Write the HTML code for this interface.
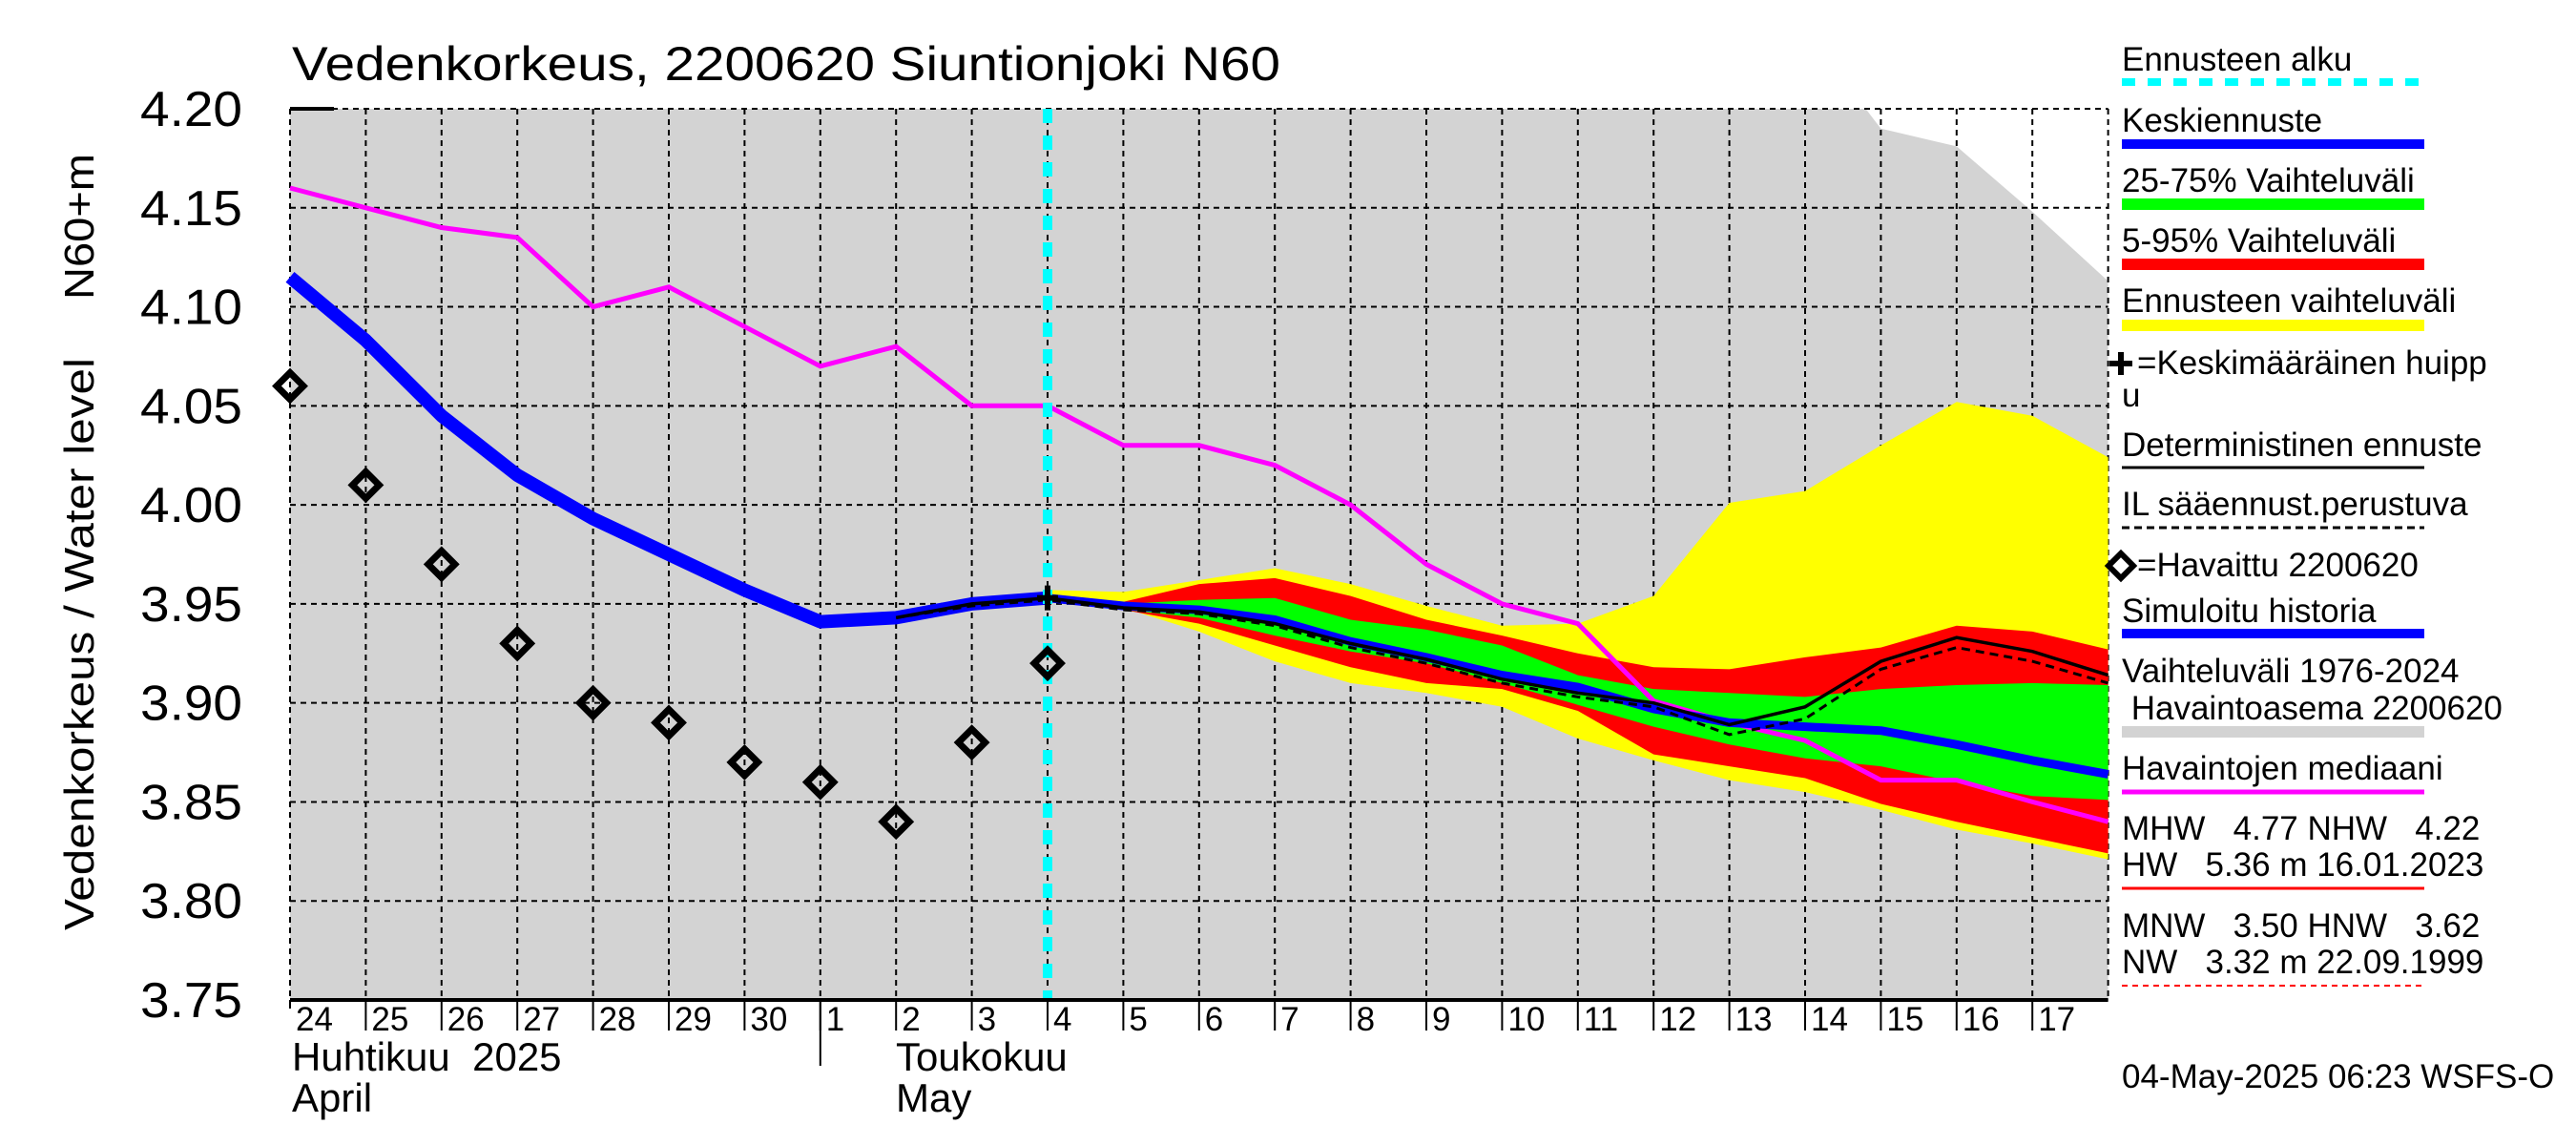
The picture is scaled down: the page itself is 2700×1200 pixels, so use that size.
<!DOCTYPE html>
<html><head><meta charset="utf-8">
<style>
html,body{margin:0;padding:0;background:#fff;}
svg{display:block;font-family:"Liberation Sans",sans-serif;}
text{white-space:pre;}
</style></head>
<body>
<svg id="chart" width="2700" height="1200" viewBox="0 0 2700 1200" xmlns="http://www.w3.org/2000/svg">
<rect x="0" y="0" width="2700" height="1200" fill="#fff"/>
<text x="306" y="84" font-size="50" textLength="1036" lengthAdjust="spacingAndGlyphs">Vedenkorkeus, 2200620 Siuntionjoki N60</text>
<text transform="translate(98,975) rotate(-90)" font-size="44" textLength="600" lengthAdjust="spacingAndGlyphs">Vedenkorkeus / Water level</text>
<text transform="translate(98,314) rotate(-90)" font-size="44" textLength="153" lengthAdjust="spacingAndGlyphs">N60+m</text>
<g id="plot"></g>
<g id="legend"></g>
</svg>
<script>
// ---- data ----
const dayLabels = ["24","25","26","27","28","29","30","1","2","3","4","5","6","7","8","9","10","11","12","13","14","15","16","17"];
const yTicks = [3.75,3.80,3.85,3.90,3.95,4.00,4.05,4.10,4.15,4.20];
const observedDays = [0,1,2,3,4,5,6,7,8,9,10];
const observed = [4.06,4.01,3.97,3.93,3.90,3.89,3.87,3.86,3.84,3.88,3.92];
const simHistDays = [0,1,2,3,4,5,6,7,8,9,10];
const simHist = [4.115,4.083,4.045,4.015,3.993,3.975,3.957,3.941,3.943,3.950,3.953];
const medianDays = [0,1,2,3,4,5,6,7,8,9,10,11,12,13,14,15,16,17,18,19,20,21,22,23,24];
const median = [4.16,4.15,4.14,4.135,4.10,4.11,4.09,4.07,4.08,4.05,4.05,4.03,4.03,4.02,4.00,3.97,3.95,3.94,3.901,3.89,3.881,3.861,3.861,3.85,3.84];
const fcDays = [10,11,12,13,14,15,16,17,18,19,20,21,22,23,24];
const meanFc = [3.953,3.949,3.947,3.942,3.931,3.923,3.914,3.908,3.897,3.890,3.888,3.886,3.879,3.871,3.864];
const yellowHi = [3.957,3.956,3.962,3.968,3.960,3.949,3.939,3.940,3.954,4.001,4.007,4.030,4.052,4.045,4.024];
const yellowLo = [3.953,3.948,3.936,3.921,3.910,3.905,3.898,3.882,3.871,3.861,3.855,3.846,3.836,3.829,3.821];
const redHi = [3.955,3.951,3.960,3.963,3.954,3.942,3.934,3.925,3.918,3.917,3.923,3.928,3.939,3.936,3.927];
const redLo = [3.952,3.947,3.940,3.929,3.918,3.910,3.907,3.896,3.874,3.868,3.862,3.849,3.840,3.832,3.824];
const greenHi = [3.954,3.950,3.952,3.953,3.942,3.937,3.929,3.914,3.907,3.905,3.903,3.907,3.909,3.910,3.909];
const greenLo = [3.953,3.947,3.943,3.934,3.926,3.920,3.910,3.899,3.888,3.879,3.872,3.868,3.860,3.853,3.851];
const detDays = [8,9,10,11,12,13,14,15,16,17,18,19,20,21,22,23,24];
const detFc = [3.943,3.950,3.953,3.948,3.946,3.940,3.930,3.922,3.912,3.905,3.900,3.889,3.898,3.921,3.933,3.926,3.914];
const ilFc = [3.943,3.949,3.952,3.947,3.945,3.939,3.928,3.920,3.910,3.903,3.898,3.884,3.892,3.917,3.928,3.921,3.910];
const grayTopDays = [0,20.8,21,22,23,24];
const grayTop = [4.20,4.20,4.190,4.181,4.148,4.113];
const forecastStart = 10;
const peakDay = 10, peakVal = 3.953;

// ---- axes ----
const X0=304, DX=79.4, Y0=114, YB=1048, VMAX=4.20, VMIN=3.75;
const x = d => X0 + DX*d;
const y = v => Y0 + (VMAX - v)/(VMAX-VMIN)*(YB-Y0);
const NS="http://www.w3.org/2000/svg";
const plot=document.getElementById('plot'), legend=document.getElementById('legend');
function mk(tag, attrs, parent){const e=document.createElementNS(NS,tag);for(const k in attrs)e.setAttribute(k,attrs[k]);(parent||plot).appendChild(e);return e;}
const XR = x(24);
function pts(ds,vs){return ds.map((d,i)=>x(d).toFixed(1)+','+y(vs[i]).toFixed(1)).join(' ');}
function band(ds,hi,lo){return pts(ds,hi)+' '+pts(ds.slice().reverse(),lo.slice().reverse());}

let g=mk('polygon',{points:pts(grayTopDays,grayTop)+' '+x(24)+','+YB+' '+x(0)+','+YB,fill:'#d3d3d3'});



for(let i=0;i<=24;i++){
  const l=mk('line',{x1:x(i),y1:Y0,x2:x(i),y2:YB,stroke:'#000','stroke-width':2,'stroke-dasharray':'6,5'});
  
  
}
yTicks.forEach(v=>{
  const l=mk('line',{x1:X0,y1:y(v),x2:XR,y2:y(v),stroke:'#000','stroke-width':2,'stroke-dasharray':'6,5'});
  
  
  const t=mk('text',{x:254,y:y(v)+18,'font-size':52,'text-anchor':'end',textLength:107,lengthAdjust:'spacingAndGlyphs'});
  t.textContent=v.toFixed(2);
  
  
});

let b;
b=mk('polygon',{points:band(fcDays,yellowHi,yellowLo),fill:'#ffff00'});


b=mk('polygon',{points:band(fcDays,redHi,redLo),fill:'#ff0000'});


b=mk('polygon',{points:band(fcDays,greenHi,greenLo),fill:'#00ff00'});



let p=mk('polyline',{points:pts(medianDays,median),fill:'none',stroke:'#ff00ff','stroke-width':5});


p=mk('polyline',{points:pts(simHistDays,simHist),fill:'none',stroke:'#0000ff','stroke-width':14,'stroke-linejoin':'round'});


p=mk('polyline',{points:pts(fcDays,meanFc),fill:'none',stroke:'#0000ff','stroke-width':9,'stroke-linejoin':'round'});


p=mk('polyline',{points:pts(detDays,detFc),fill:'none',stroke:'#000','stroke-width':3.5});


p=mk('polyline',{points:pts(detDays,ilFc),fill:'none',stroke:'#000','stroke-width':3,'stroke-dasharray':'9,6'});



p=mk('line',{x1:x(forecastStart),y1:Y0,x2:x(forecastStart),y2:YB,stroke:'#00ffff','stroke-width':10,'stroke-dasharray':'15,13'});



observedDays.forEach((d,i)=>{
  const cx=x(d), cy=y(observed[i]), r=14;
  const m=mk('polygon',{points:`${cx},${cy-r} ${cx+r},${cy} ${cx},${cy+r} ${cx-r},${cy}`,fill:'none',stroke:'#000','stroke-width':7});
  
  
});
p=mk('path',{d:`M${x(peakDay)-11},${y(peakVal)} h22 M${x(peakDay)},${y(peakVal)-13} v26`,stroke:'#000','stroke-width':6});



p=mk('line',{x1:X0,y1:YB,x2:XR,y2:YB,stroke:'#000','stroke-width':4});


p=mk('line',{x1:X0,y1:Y0,x2:350,y2:Y0,stroke:'#000','stroke-width':4});


for(let i=0;i<24;i++){
  const t=mk('line',{x1:x(i),y1:YB,x2:x(i),y2:i==0?1057:1080,stroke:'#000','stroke-width':2});
  
  
  const lb=mk('text',{x:x(i)+6,y:1080,'font-size':35});
  lb.textContent=dayLabels[i];
  
  
}
p=mk('line',{x1:x(7),y1:YB,x2:x(7),y2:1117,stroke:'#000','stroke-width':2});


[["Huhtikuu  2025",306,1122,'month-label-fi'],["April",306,1165,'month-label-en'],["Toukokuu",939,1122,'month-label-fi'],["May",939,1165,'month-label-en']].forEach(a=>{
  const t=mk('text',{x:a[1],y:a[2],'font-size':42});
  t.textContent=a[0];
  
  
});

const LX=2224, LX2=2541;
function ltext(s,yy,name){const t=mk('text',{x:LX,y:yy,'font-size':35},legend);t.textContent=s;return t;}
function lline(yy,col,w,dash,name){const l=mk('line',{x1:LX,y1:yy,x2:LX2,y2:yy,stroke:col,'stroke-width':w},legend);if(dash)l.setAttribute('stroke-dasharray',dash);}
ltext("Ennusteen alku",74,'legend-forecast-start');lline(86,'#00ffff',8,'14,13','legend-forecast-start-swatch');
ltext("Keskiennuste",138,'legend-mean-forecast');lline(151,'#0000ff',10,null,'legend-mean-forecast-swatch');
ltext("25-75% Vaihteluväli",201,'legend-band-25-75');lline(214,'#00ff00',12,null,'legend-band-25-75-swatch');
ltext("5-95% Vaihteluväli",264,'legend-band-5-95');lline(277,'#ff0000',12,null,'legend-band-5-95-swatch');
ltext("Ennusteen vaihteluväli",327,'legend-forecast-range');lline(341,'#ffff00',12,null,'legend-forecast-range-swatch');
ltext("=Keskimääräinen huipp",392,'legend-mean-peak').setAttribute('x',LX+16);
let pk=mk('path',{d:`M${LX-13},${381} h24 M${LX-1},${369} v24`,stroke:'#000','stroke-width':6},legend);


ltext("u",426,'legend-mean-peak-wrap');
ltext("Deterministinen ennuste",478,'legend-deterministic');lline(490,'#000',3,null,'legend-deterministic-swatch');
ltext("IL sääennust.perustuva",540,'legend-il-forecast');lline(553,'#000',3,'8,5','legend-il-forecast-swatch');
ltext("=Havaittu 2200620",604,'legend-observed').setAttribute('x',LX+16);
let dm=mk('polygon',{points:`${LX-1},${580} ${LX+12},${593} ${LX-1},${606} ${LX-14},${593}`,fill:'none',stroke:'#000','stroke-width':6},legend);


ltext("Simuloitu historia",652,'legend-simulated-history');lline(664,'#0000ff',10,null,'legend-simulated-history-swatch');
ltext("Vaihteluväli 1976-2024",715,'legend-historical-range');
ltext(" Havaintoasema 2200620",754,'legend-historical-station');lline(767,'#d3d3d3',12,null,'legend-historical-range-swatch');
ltext("Havaintojen mediaani",817,'legend-median');lline(830,'#ff00ff',5,null,'legend-median-swatch');
ltext("MHW   4.77 NHW   4.22",880,'legend-mhw');
ltext("HW   5.36 m 16.01.2023",918,'legend-hw');lline(931,'#ff0000',3,null,'legend-hw-swatch');
ltext("MNW   3.50 HNW   3.62",982,'legend-mnw');
ltext("NW   3.32 m 22.09.1999",1020,'legend-nw');lline(1033,'#ff0000',2,'6,5','legend-nw-swatch');
ltext("04-May-2025 06:23 WSFS-O",1140,'timestamp');
</script>
</body></html>
